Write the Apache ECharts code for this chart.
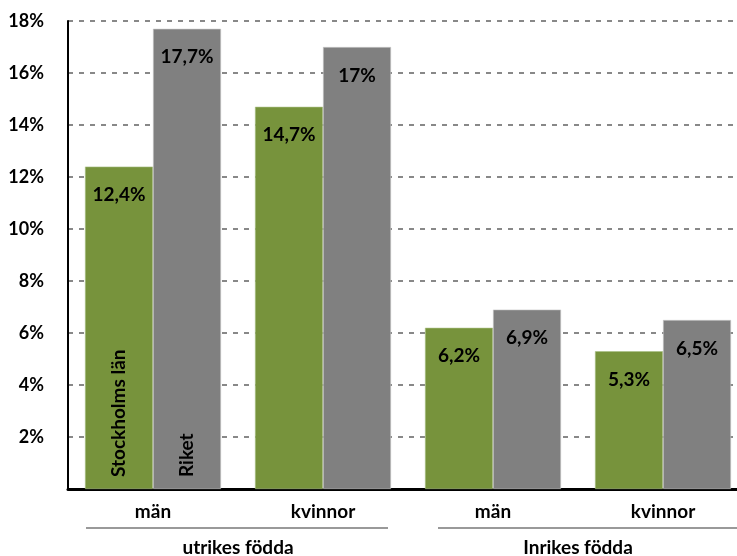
<!DOCTYPE html>
<html>
<head>
<meta charset="utf-8">
<script src="https://cdn.jsdelivr.net/npm/echarts@6/dist/echarts.min.js"></script>
<style>
  html, body { margin: 0; padding: 0; background: #fff; }
  #chart { width: 737px; height: 556px; }
</style>
</head>
<body>
<div id="chart"></div>
<script>
// data
const categories = ['män', 'kvinnor', 'män', 'kvinnor'];
const groups = ['utrikes födda', 'Inrikes födda'];
const stockholm = [12.4, 14.7, 6.2, 5.3];
const riket = [17.7, 17, 6.9, 6.5];
const seriesNames = ['Stockholms län', 'Riket'];

const FONT = 'Lato';
const fmtPct = v => String(v).replace('.', ',') + '%';

// name labels only on the first category
const onlyFirst = arr => arr.map((v, i) => (i === 0 ? v : '-'));

const chart = echarts.init(document.getElementById('chart'));

const valueLabel = {
  show: true,
  position: 'insideTop',
  distance: 19,
  color: '#000',
  fontFamily: FONT,
  fontWeight: 'bold',
  fontSize: 19,
  formatter: p => fmtPct(p.value)
};

const nameLabel = {
  show: true,
  position: 'insideBottom',
  distance: 12,
  rotate: 90,
  align: 'left',
  verticalAlign: 'middle',
  color: '#000',
  fontFamily: FONT,
  fontWeight: 'bold',
  fontSize: 19,
  formatter: p => p.seriesName
};

const option = {
  animation: false,
  // plot runs past the right edge, as in the original
  grid: { left: 68, width: 680, top: 21, bottom: 67, outerBoundsMode: 'none', containLabel: false },
  xAxis: [
    {
      type: 'category',
      data: categories,
      axisLine: { show: true, lineStyle: { color: '#000', width: 3 } },
      axisTick: { show: false },
      axisLabel: { color: '#000', fontFamily: FONT, fontWeight: 'bold', fontSize: 19, margin: 13 }
    },
    {
      type: 'category',
      data: categories,
      show: false
    },
    {
      type: 'category',
      data: groups,
      position: 'bottom',
      offset: 38,
      axisLine: { show: false },
      axisTick: { show: false },
      axisLabel: { color: '#000', fontFamily: FONT, fontWeight: 'bold', fontSize: 19, margin: 11 }
    }
  ],
  yAxis: {
    type: 'value',
    min: 0,
    max: 18,
    interval: 2,
    axisLine: { show: true, lineStyle: { color: '#000', width: 2 } },
    axisTick: { show: false },
    axisLabel: {
      color: '#000', fontFamily: FONT, fontWeight: 'bold', fontSize: 18, margin: 24,
      formatter: v => (v === 0 ? '' : v + '%')
    },
    splitLine: { lineStyle: { color: '#888', width: 2, type: [5, 6] } }
  },
  graphic: [
    { type: 'line', shape: { x1: 86, y1: 528, x2: 388, y2: 528 }, style: { stroke: '#777', lineWidth: 1.5 } },
    { type: 'line', shape: { x1: 438, y1: 528, x2: 748, y2: 528 }, style: { stroke: '#777', lineWidth: 1.5 } }
  ],
  series: [
    {
      name: seriesNames[0],
      type: 'bar',
      data: stockholm,
      barGap: 0,
      barCategoryGap: '20%',
      itemStyle: { color: '#77933C', borderColor: '#a9bf84', borderWidth: 0.6 },
      label: valueLabel,
      z: 2
    },
    {
      name: seriesNames[1],
      type: 'bar',
      data: riket,
      itemStyle: { color: '#808080', borderColor: '#c8c8c8', borderWidth: 0.6 },
      label: valueLabel,
      z: 2
    },
    {
      name: seriesNames[0],
      type: 'bar',
      xAxisIndex: 1,
      data: onlyFirst(stockholm),
      barGap: 0,
      barCategoryGap: '20%',
      itemStyle: { color: 'rgba(0,0,0,0)' },
      label: nameLabel,
      silent: true,
      z: 3
    },
    {
      name: seriesNames[1],
      type: 'bar',
      xAxisIndex: 1,
      data: onlyFirst(riket),
      itemStyle: { color: 'rgba(0,0,0,0)' },
      label: nameLabel,
      silent: true,
      z: 3
    }
  ]
};

chart.setOption(option);
</script>
</body>
</html>
